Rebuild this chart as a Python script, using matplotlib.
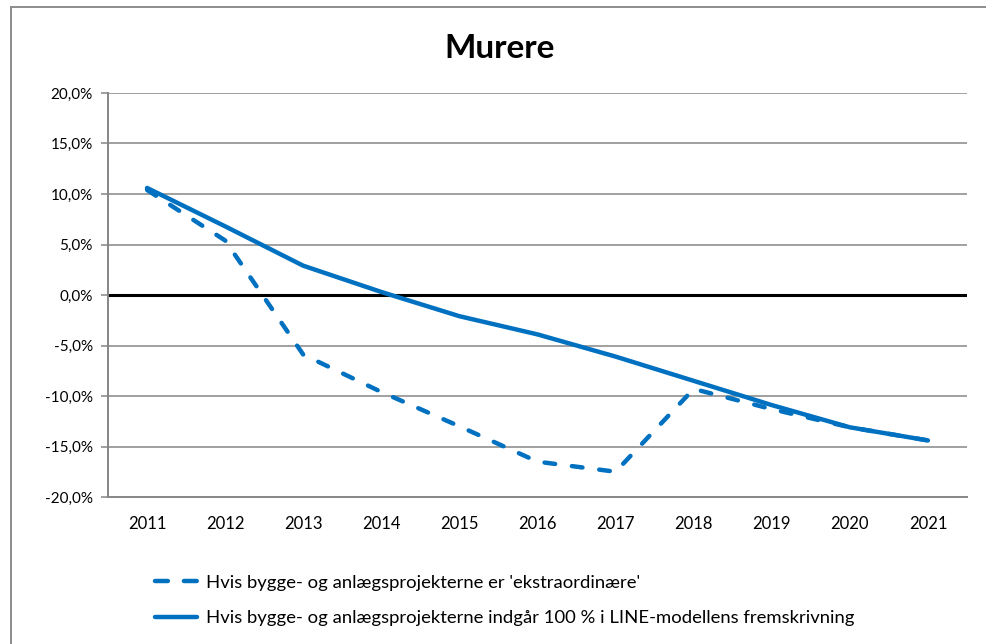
import matplotlib
matplotlib.use("Agg")
import matplotlib.pyplot as plt
from matplotlib.lines import Line2D

plt.rcParams['font.family'] = ['Lato', 'DejaVu Sans']

# data (percent)
years = ['2011', '2012', '2013', '2014', '2015', '2016', '2017', '2018', '2019', '2020', '2021']
ekstra = [10.4, 5.4, -5.9, -9.6, -13.0, -16.5, -17.5, -9.3, -11.3, -13.1, -14.4]
line100 = [10.6, 6.8, 2.9, 0.3, -2.1, -3.9, -6.1, -8.5, -10.9, -13.1, -14.4]
yticks = [20, 15, 10, 5, 0, -5, -10, -15, -20]

label_ekstra = "Hvis bygge- og anlægsprojekterne er 'ekstraordinære'"
label_100 = "Hvis bygge- og anlægsprojekterne indgår 100 % i LINE-modellens fremskrivning"

blue = '#0070C0'
grid = '#868686'

fig = plt.figure(figsize=(9.86, 6.44), dpi=100)
ax = fig.add_axes([108/986, 1 - 497/644, (967-108)/986, (497-93)/644])

x = range(len(years))
ax.plot(x, ekstra, color=blue, lw=3.2, dashes=(2.4, 3.8),
        dash_capstyle='round', solid_capstyle='round', zorder=3)
ax.plot(x, line100, color=blue, lw=3.2, solid_capstyle='round', zorder=4)

ax.set_xlim(-0.5, len(years) - 0.5)
ax.set_ylim(-20, 20)
ax.set_yticks(yticks)
ax.set_yticklabels([f"{v:.1f}%".replace('.', ',') for v in yticks])
ax.set_xticks(list(x))
ax.set_xticklabels(years)

for v in yticks:
    if v == 0:
        ax.axhline(0, color='black', lw=2.2, zorder=2)
    elif v != -20:
        ax.axhline(v, color=grid, lw=1.1, zorder=1)

for sp in ['top', 'right']:
    ax.spines[sp].set_visible(False)
ax.spines['left'].set_color(grid)
ax.spines['left'].set_linewidth(1.4)
ax.spines['bottom'].set_color(grid)
ax.spines['bottom'].set_linewidth(1.4)

ax.tick_params(axis='y', length=5, width=1.1, color=grid, labelsize=11, pad=6)
ax.tick_params(axis='x', length=0, labelsize=12, pad=14)

fig.text(0.507, 1 - 48/644, 'Murere', ha='center', va='center',
         fontsize=24, fontweight='bold')

# legend handles
h_ekstra = Line2D([], [], color=blue, lw=3.2, dashes=(2.9, 3.6),
                  dash_capstyle='round', solid_capstyle='round')
h_100 = Line2D([], [], color=blue, lw=3.2, solid_capstyle='round')
fig.legend(handles=[h_ekstra, h_100], labels=[label_ekstra, label_100],
           loc='upper left', bbox_to_anchor=(138/986, 1 - 558/644), frameon=False,
           fontsize=13.3, handlelength=2.3, handletextpad=0.5,
           labelspacing=1.05)

# outer chart border
fig.add_artist(Line2D([11/986, 11/986], [0, 1 - 7/644], color='#8c8c8c', lw=1.4,
                      transform=fig.transFigure))
fig.add_artist(Line2D([11/986, 1], [1 - 7/644, 1 - 7/644], color='#8c8c8c', lw=1.4,
                      transform=fig.transFigure))

fig.savefig('out.png', dpi=100)
